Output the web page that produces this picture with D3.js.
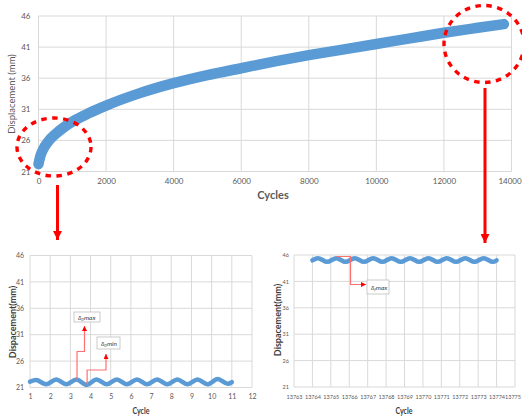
<!DOCTYPE html>
<html><head><meta charset="utf-8">
<script src="https://cdn.jsdelivr.net/npm/d3@7"></script>
<style>body{margin:0;background:#fff}svg{display:block}text{font-family:Lato,"Open Sans",sans-serif}</style>
</head><body><svg id="c" width="522" height="416"></svg>
<script>
// ---------- data ----------
const mainCycles = [0, 50, 150, 300, 500, 800, 1000, 1500, 2000, 3000, 4000, 5000, 6000, 7000, 8000, 9000, 10000, 11000, 12000, 13000, 13774];
const mainDisp   = [22.2, 23.4, 24.7, 25.9, 27.0, 28.3, 29.0, 30.4, 31.6, 33.6, 35.2, 36.5, 37.6, 38.7, 39.7, 40.6, 41.5, 42.4, 43.3, 44.1, 44.7];
const mainXTicks = [0, 2000, 4000, 6000, 8000, 10000, 12000, 14000];
const yTicks = [21, 26, 31, 36, 41, 46];

const leftCycles = [1, 1.3, 1.8, 2.3, 2.8, 3.3, 3.8, 4.3, 4.8, 5.3, 5.8, 6.3, 6.8, 7.3, 7.8, 8.3, 8.8, 9.3, 9.8, 10.3, 10.8, 11];
const leftDisp   = [22.1, 22.4, 21.6, 22.5, 21.6, 22.5, 21.5, 22.5, 21.6, 22.5, 21.6, 22.5, 21.6, 22.5, 21.6, 22.5, 21.6, 22.5, 21.6, 22.6, 21.7, 22.0];
const leftXTicks = [1, 2, 3, 4, 5, 6, 7, 8, 9, 10, 11, 12];

const rightCycles = [13764, 13764.3, 13764.8, 13765.3, 13765.8, 13766.3, 13766.8, 13767.3, 13767.8, 13768.3, 13768.8, 13769.3, 13769.8, 13770.3, 13770.8, 13771.3, 13771.8, 13772.3, 13772.8, 13773.3, 13773.8, 13774];
const rightDisp   = [45.0, 45.4, 44.7, 45.4, 44.7, 45.4, 44.7, 45.4, 44.7, 45.4, 44.7, 45.4, 44.7, 45.4, 44.7, 45.4, 44.7, 45.4, 44.7, 45.4, 44.7, 45.0];
const rightXTicks = [13763, 13764, 13765, 13766, 13767, 13768, 13769, 13770, 13771, 13772, 13773, 13774, 13775];

const svg = d3.select("#c");
const grid = "#d9d9d9", txt = "#595959", blue = "#5b9bd5", red = "#ff0000", pink = "#ff7070";

const defs = svg.append("defs");
function marker(id, color, w) {
  defs.append("marker").attr("id", id).attr("viewBox", "0 0 10 10").attr("refX", 10).attr("refY", 5)
    .attr("markerWidth", w).attr("markerHeight", w).attr("markerUnits", "userSpaceOnUse").attr("orient", "auto")
    .append("path").attr("d", "M0,0L10,5L0,10Z").attr("fill", color);
}
marker("bigArrow", red, 9);
marker("smallArrow", red, 5);

function panel(cfg) {
  const x = d3.scaleLinear().domain(cfg.xd).range(cfg.xr);
  const y = d3.scaleLinear().domain([21, 46]).range(cfg.yr);
  const g = svg.append("g");
  g.selectAll(".hg").data(yTicks).join("line").attr("x1", cfg.xr[0]).attr("x2", cfg.xr[1])
    .attr("y1", d => y(d)).attr("y2", d => y(d)).attr("stroke", grid).attr("stroke-width", 1);
  g.selectAll(".vg").data(cfg.xt).join("line").attr("x1", d => x(d)).attr("x2", d => x(d))
    .attr("y1", cfg.yr[0]).attr("y2", cfg.yr[1]).attr("stroke", grid).attr("stroke-width", 1);
  const ya = g.append("g").attr("transform", `translate(${cfg.xr[0]},0)`)
    .call(d3.axisLeft(y).tickValues(yTicks).tickSize(0).tickPadding(cfg.ypad));
  const xa = g.append("g").attr("transform", `translate(0,${cfg.yr[0]})`)
    .call(d3.axisBottom(x).tickValues(cfg.xt).tickSize(0).tickPadding(cfg.xpad).tickFormat(d3.format("d")));
  [ya, xa].forEach(a => { a.select(".domain").remove(); a.selectAll("text").attr("fill", txt).attr("font-size", cfg.fs).attr("font-family", cfg.font); });
  xa.selectAll(".tick:last-of-type text").attr("dx", cfg.lastDx || 0);
  const line = d3.line().x(d => x(d[0])).y(d => y(d[1])).curve(d3.curveMonotoneX);
  g.append("path").datum(d3.zip(cfg.cx, cfg.cy)).attr("d", line).attr("fill", "none")
    .attr("stroke", blue).attr("stroke-width", cfg.sw).attr("stroke-linecap", "round").attr("stroke-linejoin", "round");
  return {x, y};
}

// Top chart
const topP = panel({xd: [0, 14000], xr: [38.5, 511.5], yr: [171.5, 16], xt: mainXTicks, cx: mainCycles, cy: mainDisp,
  sw: 10.5, fs: 8, ypad: 8, xpad: 7, font: "Lato", lastDx: -2});
svg.append("text").attr("x", 273).attr("y", 199).attr("text-anchor", "middle").attr("font-size", 11)
  .attr("font-weight", "bold").attr("fill", txt).text("Cycles");
svg.append("text").attr("transform", "translate(15,94) rotate(-90)").attr("text-anchor", "middle")
  .attr("font-size", 9.5).attr("fill", txt).text("Displacement (mm)");

// Bottom-left
const bl = panel({xd: [1, 12], xr: [30, 252], yr: [387.5, 255.5], xt: leftXTicks, cx: leftCycles, cy: leftDisp,
  sw: 4.5, fs: 7, ypad: 6, xpad: 7, font: "Lato"});
svg.append("text").attr("x", 141).attr("y", 414).attr("text-anchor", "middle").attr("font-size", 10)
  .attr("font-weight", "bold").attr("fill", "#404040").attr("textLength", 17).attr("lengthAdjust", "spacingAndGlyphs").text("Cycle");
svg.append("text").attr("transform", "translate(16,322) rotate(-90)").attr("text-anchor", "middle")
  .attr("font-size", 9).attr("font-weight", "bold").attr("fill", "#404040").text("Dispacement(mm)");

// Bottom-right
const br = panel({xd: [13763, 13775], xr: [294, 515], yr: [387, 255], xt: rightXTicks, cx: rightCycles, cy: rightDisp,
  sw: 4.5, fs: 5.5, ypad: 5, xpad: 8, font: "Lato", lastDx: -2.5});
svg.append("text").attr("x", 404).attr("y", 414).attr("text-anchor", "middle").attr("font-size", 10)
  .attr("font-weight", "bold").attr("fill", "#404040").attr("textLength", 17).attr("lengthAdjust", "spacingAndGlyphs").text("Cycle");
svg.append("text").attr("transform", "translate(281,320) rotate(-90)").attr("text-anchor", "middle")
  .attr("font-size", 9).attr("font-weight", "bold").attr("fill", "#404040").text("Dispacement(mm)");

// Annotation boxes
function box(xp, yp, w, h, sub, rest) {
  svg.append("rect").attr("x", xp).attr("y", yp).attr("width", w).attr("height", h)
    .attr("fill", "#fff").attr("stroke", "#bfbfbf").attr("stroke-width", 0.8);
  const t = svg.append("text").attr("x", xp + 4).attr("y", yp + h / 2 + 2.5).attr("font-size", 6.5).attr("fill", "#404040").attr("font-style", "italic");
  t.append("tspan").text("δ");
  t.append("tspan").attr("font-size", 4.5).attr("dy", 1.5).text(sub);
  t.append("tspan").attr("dy", -1.5).text(rest);
}
box(74, 312, 26, 10, "0", "max");
box(97, 337, 23, 12, "0", "min");
box(367, 280, 22, 14, "f", "max");

// Annotation leader lines
const path = (pts, mk) => svg.append("path").attr("d", d3.line()(pts)).attr("fill", "none")
  .attr("stroke", pink).attr("stroke-width", 1.2).attr("marker-end", mk ? "url(#smallArrow)" : null);
path([[bl.x(3.33), bl.y(22.5)], [bl.x(3.33), 351.5], [84.5, 351.5], [84.5, 326]], true);
path([[bl.x(3.83), bl.y(21.5)], [bl.x(3.83), 370], [106, 370], [106, 354]], true);
path([[br.x(13765.3), 256.5], [350.5, 256.5], [350.5, 284.5], [366, 284.5]], true);

// Red dashed ellipses
svg.append("ellipse").attr("cx", 54).attr("cy", 147).attr("rx", 37).attr("ry", 29)
  .attr("fill", "none").attr("stroke", red).attr("stroke-width", 3.4).attr("stroke-dasharray", "5.5,5.5");
svg.append("ellipse").attr("cx", 484).attr("cy", 44).attr("rx", 40).attr("ry", 38.5)
  .attr("fill", "none").attr("stroke", red).attr("stroke-width", 3.4).attr("stroke-dasharray", "5.5,5.5");

// Big red arrows
svg.append("line").attr("x1", 57.5).attr("y1", 185).attr("x2", 57.5).attr("y2", 240)
  .attr("stroke", red).attr("stroke-width", 3).attr("marker-end", "url(#bigArrow)");
svg.append("line").attr("x1", 485).attr("y1", 88).attr("x2", 485).attr("y2", 243)
  .attr("stroke", red).attr("stroke-width", 3).attr("marker-end", "url(#bigArrow)");
</script></body></html>
